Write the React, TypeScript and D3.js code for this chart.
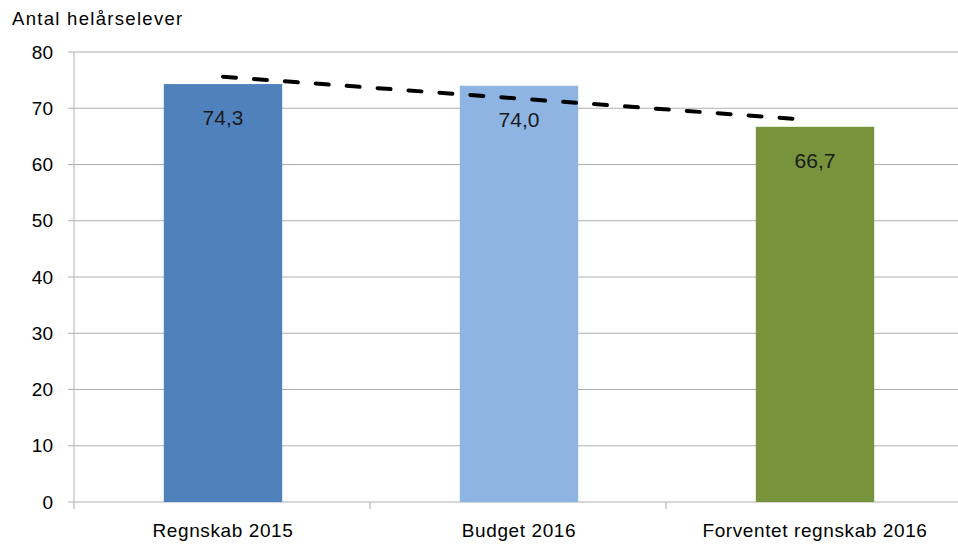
import React from 'react';
import * as d3 from 'd3';

const categories = ['Regnskab 2015', 'Budget 2016', 'Forventet regnskab 2016'];
const values = [74.3, 74.0, 66.7];
const valueLabels = ['74,3', '74,0', '66,7'];
const barColors = ['#4F81BD', '#8EB4E3', '#77933C'];
const yTicks = [0, 10, 20, 30, 40, 50, 60, 70, 80];
// dashed trend line: position in category units, value
const trendPos = [0, 1.96];
const trendValues = [75.6, 68.0];

const W = 958;
const H = 547;
const margin = { top: 52, right: -4, bottom: 45, left: 74 };
const FONT = '"Liberation Sans", Arial, sans-serif';

const App = () => {
  const plotW = W - margin.left - margin.right;
  const plotH = H - margin.top - margin.bottom;

  const x = d3.scaleBand<string>().domain(categories).range([0, plotW]).padding(0);
  const y = d3.scaleLinear().domain([0, 80]).range([plotH, 0]);
  const barW = x.bandwidth() * 0.4;
  const center = (i: number) => x.step() * (i + 0.5) + 1;

  const trendLine = d3
    .line<number>()
    .x((p) => center(p))
    .y((_, i) => y(trendValues[i]));

  return (
    <div style={{ position: 'fixed', left: 0, top: 0 }}>
      <svg width={W} height={H} style={{ display: 'block', background: '#fff' }}>
        <text x={12} y={25} fontFamily={FONT} fontSize={18.5} letterSpacing={1.3} fill="#000">
          Antal helårselever
        </text>
        <g transform={`translate(${margin.left},${margin.top})`}>
          {/* gridlines + y labels */}
          {yTicks.map((t) => (
            <g key={t} transform={`translate(0,${y(t)})`}>
              <line x1={-6} x2={plotW} stroke="#b0b0b0" strokeWidth={1} />
              <text
                x={-21}
                dy="0.35em"
                textAnchor="end"
                fontFamily={FONT}
                fontSize={19}
                fill="#000"
              >
                {t}
              </text>
            </g>
          ))}
          <line x1={0} x2={0} y1={0} y2={plotH} stroke="#b0b0b0" />
          {/* x axis ticks */}
          {d3.range(categories.length + 1).map((i) => (
            <line
              key={i}
              x1={x.step() * i}
              x2={x.step() * i}
              y1={plotH}
              y2={plotH + 7}
              stroke="#b0b0b0"
            />
          ))}
          {/* bars */}
          {categories.map((c, i) => (
            <g key={c}>
              <rect
                x={center(i) - barW / 2}
                y={y(values[i])}
                width={barW}
                height={plotH - y(values[i])}
                fill={barColors[i]}
              />
              <text
                x={center(i)}
                y={y(values[i]) + 41}
                textAnchor="middle"
                fontFamily={FONT}
                fontSize={21}
                fill="#1a1a1a"
              >
                {valueLabels[i]}
              </text>
              <text
                x={center(i)}
                y={plotH + 35}
                textAnchor="middle"
                fontFamily={FONT}
                fontSize={19}
                letterSpacing={0.6}
                fill="#000"
              >
                {c}
              </text>
            </g>
          ))}
          {/* trend line */}
          <path
            d={trendLine(trendPos) || ''}
            fill="none"
            stroke="#000"
            strokeWidth={4}
            strokeDasharray="13,18"
            strokeLinecap="round"
          />
        </g>
      </svg>
    </div>
  );
};

export default App;
